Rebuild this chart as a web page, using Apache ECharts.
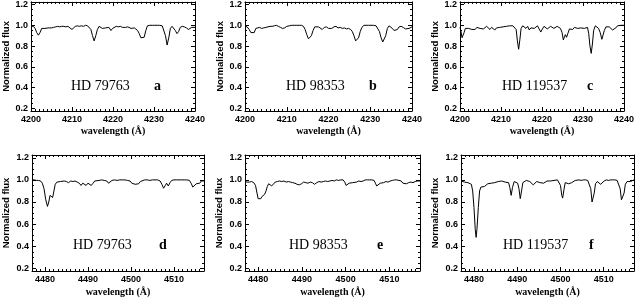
<!DOCTYPE html>
<html><head><meta charset="utf-8">
<script src="https://cdn.jsdelivr.net/npm/echarts@6/dist/echarts.min.js"></script>
<style>html,body{margin:0;padding:0;background:#fff}#c{width:637px;height:298px}</style>
</head><body><div id="c"></div>
<script>
const starNames = ['HD 79763','HD 98353','HD 119537','HD 79763','HD 98353','HD 119537'];
const panelLetters = ['a','b','c','d','e','f'];
const xTicksTop = [4200,4210,4220,4230,4240];
const xTicksBottom = [4480,4490,4500,4510];
const yTicks = [0.2,0.4,0.6,0.8,1.0,1.2];
const xRangeTop = [4200,4240];
const xRangeBottom = [4477,4517];
const yRange = [0.176,1.225];

const specA = [[4200.0,0.99],[4200.3,1.00],[4200.6,0.99],[4201.0,0.97],[4201.4,0.93],[4201.8,0.905],[4202.2,0.93],[4202.6,0.97],[4203.0,0.98],[4203.4,0.97],[4203.8,0.96],[4204.2,0.975],[4204.6,0.985],[4205.0,0.975],[4205.5,0.98],[4206.0,0.985],[4206.5,0.99],[4207.0,0.985],[4207.5,0.99],[4208.0,0.99],[4208.5,0.985],[4209.0,0.99],[4209.5,0.975],[4210.0,0.96],[4210.4,0.975],[4210.8,0.99],[4211.3,0.995],[4211.8,0.99],[4212.3,0.995],[4212.8,0.99],[4213.3,1.00],[4213.8,0.995],[4214.2,0.99],[4214.6,0.96],[4215.0,0.90],[4215.4,0.85],[4215.8,0.90],[4216.2,0.96],[4216.6,0.99],[4217.0,0.985],[4217.4,0.97],[4217.8,0.955],[4218.2,0.975],[4218.6,0.99],[4219.0,0.98],[4219.5,0.95],[4219.9,0.97],[4220.3,0.985],[4220.8,0.99],[4221.3,0.985],[4221.8,0.99],[4222.3,0.98],[4222.7,0.965],[4223.1,0.98],[4223.6,0.985],[4224.0,0.975],[4224.4,0.97],[4224.8,0.98],[4225.2,0.975],[4225.6,0.96],[4226.0,0.95],[4226.4,0.92],[4226.8,0.88],[4227.2,0.89],[4227.6,0.885],[4228.0,0.95],[4228.4,0.995],[4229.0,1.00],[4229.6,1.00],[4230.2,1.00],[4230.8,1.00],[4231.4,1.00],[4232.0,0.995],[4232.4,0.98],[4232.8,0.90],[4233.2,0.81],[4233.6,0.88],[4234.0,0.97],[4234.4,0.99],[4234.8,0.98],[4235.2,0.95],[4235.6,0.92],[4236.0,0.94],[4236.4,0.98],[4236.9,0.99],[4237.4,0.985],[4237.9,0.975],[4238.4,0.96],[4238.8,0.97],[4239.2,0.98],[4239.6,0.975],[4240.0,0.98]];

const specB = [[4200.0,0.99],[4200.5,0.985],[4201.0,0.96],[4201.4,0.93],[4201.8,0.915],[4202.2,0.93],[4202.6,0.97],[4203.0,0.985],[4203.5,0.98],[4204.0,0.97],[4204.5,0.975],[4205.0,0.98],[4205.5,0.985],[4206.0,0.99],[4206.5,0.99],[4207.0,0.995],[4207.5,1.00],[4208.0,0.99],[4208.5,0.98],[4209.0,0.97],[4209.5,0.975],[4210.0,0.99],[4210.6,0.995],[4211.2,1.00],[4211.8,1.00],[4212.4,1.00],[4213.0,1.00],[4213.5,1.00],[4214.0,0.99],[4214.4,0.96],[4214.8,0.91],[4215.2,0.87],[4215.5,0.865],[4215.9,0.90],[4216.3,0.95],[4216.7,0.985],[4217.1,0.99],[4217.6,0.985],[4218.0,0.975],[4218.5,0.96],[4219.0,0.98],[4219.5,0.985],[4220.0,0.97],[4220.4,0.955],[4220.8,0.97],[4221.3,0.985],[4221.8,0.99],[4222.3,0.975],[4222.8,0.98],[4223.3,0.97],[4223.8,0.975],[4224.3,0.965],[4224.8,0.97],[4225.3,0.96],[4225.7,0.94],[4226.1,0.90],[4226.5,0.85],[4226.8,0.84],[4227.2,0.88],[4227.6,0.94],[4228.0,0.98],[4228.5,1.00],[4229.0,1.00],[4229.6,1.00],[4230.2,1.00],[4230.8,1.00],[4231.4,0.995],[4231.8,0.98],[4232.2,0.94],[4232.6,0.88],[4233.0,0.84],[4233.3,0.84],[4233.7,0.90],[4234.1,0.97],[4234.5,0.995],[4234.9,0.99],[4235.3,0.97],[4235.7,0.95],[4236.1,0.935],[4236.5,0.96],[4236.9,0.985],[4237.4,0.99],[4237.9,0.98],[4238.4,0.965],[4238.8,0.955],[4239.3,0.97],[4239.7,0.98],[4240.0,0.985]];

const specC = [[4200.0,0.98],[4200.2,0.95],[4200.5,0.88],[4200.7,0.875],[4201.0,0.93],[4201.3,0.97],[4201.7,0.98],[4202.1,0.97],[4202.5,0.985],[4202.9,0.96],[4203.3,0.975],[4203.7,0.96],[4204.1,0.98],[4204.5,0.99],[4204.9,0.97],[4205.3,0.985],[4205.7,0.965],[4206.1,0.98],[4206.5,0.99],[4206.9,0.975],[4207.3,0.96],[4207.7,0.98],[4208.1,0.99],[4208.5,0.955],[4208.9,0.975],[4209.3,0.99],[4209.7,0.98],[4210.1,0.995],[4210.5,0.985],[4210.9,0.97],[4211.3,0.99],[4211.7,0.985],[4212.1,0.995],[4212.5,0.99],[4212.9,0.995],[4213.3,0.99],[4213.7,0.96],[4214.0,0.85],[4214.3,0.77],[4214.6,0.86],[4214.9,0.97],[4215.3,0.995],[4215.7,0.99],[4216.1,0.97],[4216.5,0.99],[4216.9,0.955],[4217.3,0.975],[4217.7,0.99],[4218.1,0.97],[4218.5,0.985],[4218.9,0.995],[4219.3,0.965],[4219.7,0.935],[4220.1,0.965],[4220.5,0.99],[4220.9,0.98],[4221.3,0.965],[4221.7,0.975],[4222.1,0.99],[4222.5,0.985],[4222.9,0.97],[4223.3,0.98],[4223.7,0.99],[4224.1,0.985],[4224.5,0.97],[4224.9,0.93],[4225.2,0.86],[4225.4,0.85],[4225.7,0.91],[4226.0,0.885],[4226.3,0.92],[4226.7,0.965],[4227.1,0.975],[4227.5,0.96],[4227.9,0.98],[4228.3,0.985],[4228.7,0.97],[4229.1,0.955],[4229.5,0.975],[4229.9,0.985],[4230.3,0.97],[4230.7,0.985],[4231.1,0.98],[4231.4,0.92],[4231.7,0.80],[4232.0,0.73],[4232.3,0.82],[4232.6,0.95],[4233.0,0.995],[4233.4,0.99],[4233.8,0.97],[4234.2,0.93],[4234.6,0.865],[4234.9,0.88],[4235.2,0.95],[4235.6,0.985],[4236.0,0.99],[4236.4,0.985],[4236.8,0.97],[4237.2,0.955],[4237.6,0.95],[4238.0,0.975],[4238.4,0.995],[4238.8,0.99],[4239.2,1.00],[4239.6,0.99],[4240.0,1.00]];

const specD = [[4477.0,1.00],[4477.5,1.00],[4478.0,0.995],[4478.5,0.995],[4479.0,0.99],[4479.4,0.97],[4479.8,0.92],[4480.2,0.82],[4480.6,0.76],[4480.9,0.80],[4481.2,0.86],[4481.5,0.865],[4481.8,0.84],[4482.1,0.90],[4482.4,0.96],[4482.8,0.98],[4483.2,0.975],[4483.6,0.985],[4484.0,0.98],[4484.5,0.99],[4485.0,0.985],[4485.5,0.975],[4486.0,0.99],[4486.5,0.985],[4487.0,0.99],[4487.5,0.98],[4488.0,0.97],[4488.4,0.95],[4488.8,0.97],[4489.2,0.975],[4489.6,0.95],[4490.0,0.97],[4490.4,0.975],[4490.8,0.95],[4491.2,0.97],[4491.6,0.99],[4492.0,1.00],[4492.6,0.995],[4493.2,1.00],[4493.8,0.995],[4494.4,0.99],[4494.8,0.97],[4495.2,0.985],[4495.6,0.995],[4496.2,1.00],[4496.8,0.995],[4497.4,1.00],[4498.0,1.00],[4498.6,1.00],[4499.2,0.995],[4499.8,0.99],[4500.2,0.97],[4500.6,0.955],[4501.0,0.96],[4501.4,0.975],[4501.8,0.965],[4502.2,0.985],[4502.6,1.00],[4503.2,1.00],[4503.8,1.00],[4504.4,0.995],[4505.0,1.00],[4505.6,1.00],[4506.2,1.00],[4506.8,0.99],[4507.2,0.96],[4507.6,0.925],[4508.0,0.95],[4508.3,0.97],[4508.7,0.945],[4509.1,0.975],[4509.5,0.995],[4510.0,1.00],[4510.6,1.00],[4511.2,1.00],[4511.8,1.00],[4512.4,1.00],[4513.0,1.00],[4513.6,0.995],[4514.0,0.97],[4514.4,0.935],[4514.8,0.94],[4515.2,0.965],[4515.6,0.95],[4516.0,0.97],[4516.4,0.99],[4516.8,0.985],[4517.0,0.99]];

const specE = [[4477.0,0.985],[4477.5,0.98],[4478.0,0.98],[4478.5,0.985],[4479.0,0.975],[4479.4,0.95],[4479.7,0.89],[4480.0,0.83],[4480.3,0.82],[4480.6,0.83],[4480.9,0.85],[4481.2,0.86],[4481.5,0.87],[4481.8,0.90],[4482.1,0.94],[4482.4,0.965],[4482.8,0.96],[4483.1,0.945],[4483.5,0.96],[4483.9,0.98],[4484.4,0.985],[4484.9,0.99],[4485.4,0.985],[4485.9,0.99],[4486.4,0.98],[4486.9,0.985],[4487.4,0.98],[4487.9,0.975],[4488.4,0.97],[4488.9,0.96],[4489.4,0.955],[4489.9,0.965],[4490.4,0.98],[4490.9,0.975],[4491.4,0.97],[4491.9,0.98],[4492.4,0.975],[4492.9,0.96],[4493.4,0.975],[4493.9,0.985],[4494.4,0.98],[4494.9,0.985],[4495.4,0.99],[4495.9,0.985],[4496.4,0.99],[4496.9,0.995],[4497.4,0.99],[4497.9,1.00],[4498.4,0.995],[4498.9,1.00],[4499.4,1.00],[4499.8,0.98],[4500.1,0.95],[4500.4,0.955],[4500.8,0.97],[4501.2,0.98],[4501.6,0.975],[4502.0,0.985],[4502.5,0.98],[4503.0,0.99],[4503.5,0.985],[4504.0,0.99],[4504.5,1.00],[4505.0,1.00],[4505.5,1.00],[4506.0,1.00],[4506.5,0.995],[4506.8,0.97],[4507.1,0.945],[4507.5,0.955],[4507.9,0.97],[4508.3,0.965],[4508.7,0.975],[4509.2,0.985],[4509.7,0.98],[4510.2,0.99],[4510.7,0.995],[4511.2,1.00],[4511.7,1.00],[4512.2,0.995],[4512.7,0.99],[4513.1,0.97],[4513.5,0.955],[4513.9,0.965],[4514.4,0.975],[4514.9,0.98],[4515.4,0.975],[4515.9,0.985],[4516.4,0.99],[4517.0,0.99]];

const specF = [[4477.0,0.99],[4477.4,0.99],[4477.8,0.98],[4478.2,0.985],[4478.6,0.975],[4479.0,0.98],[4479.4,0.96],[4479.7,0.90],[4480.0,0.75],[4480.3,0.55],[4480.5,0.48],[4480.7,0.56],[4481.0,0.75],[4481.3,0.90],[4481.6,0.935],[4482.0,0.93],[4482.4,0.94],[4482.8,0.95],[4483.2,0.965],[4483.6,0.955],[4484.0,0.97],[4484.4,0.985],[4484.8,0.975],[4485.2,0.99],[4485.6,0.985],[4486.0,0.995],[4486.4,0.99],[4486.8,0.995],[4487.2,0.98],[4487.6,0.965],[4488.0,0.975],[4488.3,0.93],[4488.6,0.86],[4488.9,0.93],[4489.3,0.985],[4489.7,0.99],[4490.1,0.97],[4490.4,0.92],[4490.7,0.83],[4491.0,0.90],[4491.3,0.975],[4491.7,0.99],[4492.1,0.995],[4492.5,0.98],[4492.9,0.985],[4493.3,0.97],[4493.7,0.955],[4494.1,0.97],[4494.5,0.985],[4494.9,0.99],[4495.3,0.975],[4495.7,0.985],[4496.1,0.97],[4496.5,0.985],[4496.9,0.99],[4497.3,0.995],[4497.7,0.99],[4498.1,1.00],[4498.5,0.995],[4498.9,0.99],[4499.3,1.00],[4499.7,0.99],[4500.0,0.95],[4500.3,0.86],[4500.5,0.835],[4500.8,0.91],[4501.1,0.975],[4501.5,0.98],[4501.9,0.965],[4502.2,0.95],[4502.6,0.975],[4503.0,0.99],[4503.4,0.995],[4503.8,1.00],[4504.3,1.00],[4504.8,0.995],[4505.3,1.00],[4505.8,1.00],[4506.3,0.995],[4506.7,0.98],[4507.0,0.92],[4507.3,0.80],[4507.5,0.79],[4507.8,0.88],[4508.1,0.965],[4508.5,0.985],[4508.9,0.975],[4509.3,0.96],[4509.7,0.975],[4510.1,0.99],[4510.6,1.00],[4511.1,0.995],[4511.6,1.00],[4512.1,1.00],[4512.6,1.00],[4513.1,0.995],[4513.5,0.98],[4513.8,0.92],[4514.1,0.82],[4514.4,0.81],[4514.7,0.88],[4515.0,0.96],[4515.4,0.985],[4515.8,0.97],[4516.2,0.985],[4516.6,0.99],[4517.0,1.00]];

const spectra = [specA,specB,specC,specD,specE,specF];

// layout
const grids = [
  {left:29, top:1, width:166, height:110},
  {left:245, top:1, width:167, height:110},
  {left:460, top:1, width:167, height:110},
  {left:30, top:155, width:174, height:116},
  {left:245, top:155, width:175, height:116},
  {left:461, top:155, width:173, height:116}
];
const textPos = [
  {hx:71, lx:154, y:86},{hx:286, lx:369, y:86},{hx:502, lx:587, y:86},
  {hx:73, lx:159, y:245},{hx:289, lx:377, y:245},{hx:503, lx:589, y:245}
];

function minorList(lo, hi, step, majors) {
  const out = [];
  const n = Math.round((hi - lo) / step);
  for (let k = 0; k <= n; k++) {
    const v = +(lo + k * step).toFixed(4);
    if (!majors.some(m => Math.abs(m - v) < 1e-6)) out.push(v);
  }
  return out;
}
const yMinor = minorList(0.2, 1.2, 0.05, yTicks);
const tickFont = {fontFamily:'Liberation Sans', fontWeight:'bold', fontSize:9, color:'#000'};
const lineStyle = {color:'#000', width:1};

const xAxes = [], yAxes = [], series = [], graphics = [];
grids.forEach((g, i) => {
  const top = i < 3;
  const xr = top ? xRangeTop : xRangeBottom;
  const xt = top ? xTicksTop : xTicksBottom;
  const xm = minorList(xr[0], xr[1], 1, xt);
  const base = {type:'value', gridIndex:i, min:xr[0], max:xr[1], splitLine:{show:false}};
  xAxes.push(Object.assign({}, base, {position:'bottom',
    axisLine:{show:true, lineStyle},
    axisTick:{show:true, inside:true, length:4, lineStyle, customValues:xt},
    axisLabel:Object.assign({show:true, margin:4, customValues:xt, formatter:v => String(Math.round(v))}, tickFont),
    name:'wavelength (Å)', nameLocation:'middle', nameGap: top ? 15 : 16,
    nameTextStyle:{fontFamily:'Liberation Serif', fontWeight:'bold', fontSize:10, color:'#000'}}));
  xAxes.push(Object.assign({}, base, {position:'top',
    axisLine:{show:true, lineStyle},
    axisTick:{show:true, inside:true, length:4, lineStyle, customValues:xt},
    axisLabel:{show:false}}));
  xAxes.push(Object.assign({}, base, {position:'bottom',
    axisLine:{show:false},
    axisTick:{show:true, inside:true, length:2, lineStyle, customValues:xm},
    axisLabel:{show:false}}));
  xAxes.push(Object.assign({}, base, {position:'top',
    axisLine:{show:false},
    axisTick:{show:true, inside:true, length:2, lineStyle, customValues:xm},
    axisLabel:{show:false}}));

  const ybase = {type:'value', gridIndex:i, min:yRange[0], max:yRange[1], splitLine:{show:false}};
  yAxes.push(Object.assign({}, ybase, {position:'left',
    axisLine:{show:true, lineStyle},
    axisTick:{show:true, inside:true, length:4, lineStyle, customValues:yTicks},
    axisLabel:Object.assign({show:true, margin:3, customValues:yTicks, formatter:v => v.toFixed(1)}, tickFont),
    name:'Normalized flux', nameLocation:'middle', nameGap: top ? 20 : 21, nameRotate:90,
    nameTextStyle:{fontFamily:'Liberation Sans', fontWeight:'bold', fontSize:9.5, color:'#000'}}));
  yAxes.push(Object.assign({}, ybase, {position:'right',
    axisLine:{show:true, lineStyle},
    axisTick:{show:true, inside:true, length:4, lineStyle, customValues:yTicks},
    axisLabel:{show:false}}));
  yAxes.push(Object.assign({}, ybase, {position:'left',
    axisLine:{show:false},
    axisTick:{show:true, inside:true, length:2, lineStyle, customValues:yMinor},
    axisLabel:{show:false}}));
  yAxes.push(Object.assign({}, ybase, {position:'right',
    axisLine:{show:false},
    axisTick:{show:true, inside:true, length:2, lineStyle, customValues:yMinor},
    axisLabel:{show:false}}));

  series.push({type:'line', xAxisIndex:4*i, yAxisIndex:4*i, data:spectra[i],
    showSymbol:false, symbol:'none', lineStyle:{color:'#000', width:1}, clip:true, silent:true});

  const tp = textPos[i];
  graphics.push({type:'text', x:tp.hx, y:tp.y, style:{text:starNames[i], fill:'#000',
    font:'14px "Liberation Serif"', verticalAlign:'middle'}});
  graphics.push({type:'text', x:tp.lx, y:tp.y, style:{text:panelLetters[i], fill:'#000',
    font:'bold 14px "Liberation Serif"', verticalAlign:'middle'}});
});

const chart = echarts.init(document.getElementById('c'), null, {renderer:'canvas'});
chart.setOption({
  animation:false,
  backgroundColor:'#fff',
  grid: grids.map(g => Object.assign({containLabel:false}, g)),
  xAxis: xAxes,
  yAxis: yAxes,
  series: series,
  graphic: graphics
});
</script></body></html>
